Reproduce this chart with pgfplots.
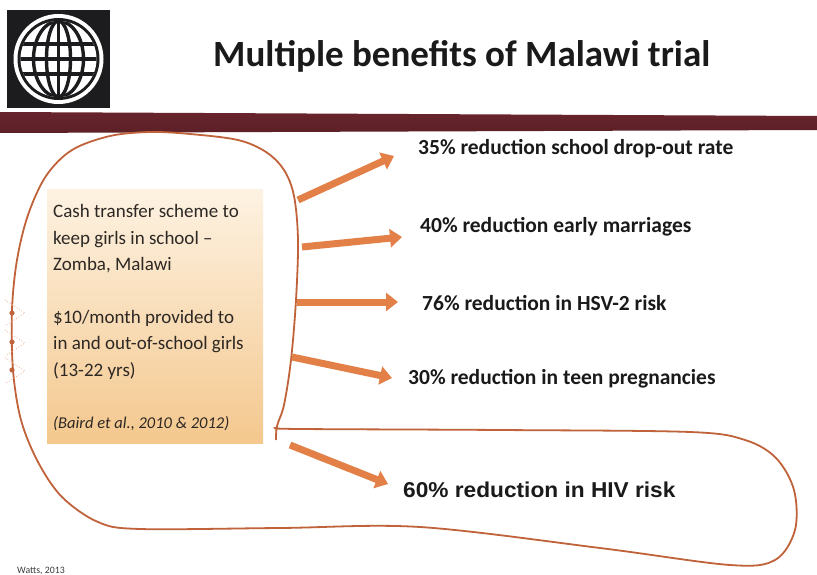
\documentclass[border=0pt]{standalone}
\usepackage{fontspec}
\setmainfont{Carlito}
\newfontfamily\arialf{Liberation Sans}
\usepackage{pgfplots}
\pgfplotsset{compat=1.18}
\usetikzlibrary{arrows.meta}
\definecolor{arrowc}{RGB}{226,128,72}
\definecolor{loopc}{RGB}{192,98,58}
\definecolor{barTop}{RGB}{104,36,44}
\definecolor{barMid}{RGB}{146,58,62}
\definecolor{barBot}{RGB}{92,32,38}
\definecolor{boxTop}{RGB}{253,242,226}
\definecolor{boxBot}{RGB}{244,200,142}
\definecolor{logoblack}{RGB}{28,28,30}
\definecolor{txt}{RGB}{26,26,26}
\definecolor{boxtxt}{RGB}{45,40,36}
\begin{document}
\begin{tikzpicture}
\begin{axis}[scale only axis, width=817pt, height=575pt,
  xmin=0, xmax=817, ymin=0, ymax=575, y dir=reverse,
  hide axis, clip=false]
% background
\fill[white] (0,0) rectangle (817,575);
% logo
\fill[logoblack] (7,10) rectangle (110,108);
\fill[white] (58.5,59) circle[radius=45pt];
\fill[logoblack] (58.5,59) circle[radius=41pt];
\fill[white] (58.5,59) circle[radius=38pt];
\begin{scope}
\clip (58.5,59) circle[radius=38pt];
\draw[logoblack, line width=3.4pt] (58.5,15) -- (58.5,105);
\draw[logoblack, line width=3.4pt] (58.5,59) ellipse[x radius=12pt, y radius=38pt];
\draw[logoblack, line width=3.4pt] (58.5,59) ellipse[x radius=25pt, y radius=38pt];
\draw[logoblack, line width=3.4pt] (10,59) -- (110,59);
\draw[logoblack, line width=3.4pt] (10,44) -- (110,44);
\draw[logoblack, line width=3.4pt] (10,74) -- (110,74);
\end{scope}
% title
\node[anchor=base west, inner sep=0, text=txt, font=\fontsize{37}{44}\selectfont\bfseries] at (213,67) {Multiple benefits of Malawi trial};
% bar
\shade[top color=barTop, middle color=barMid, bottom color=barBot] (0,112) -- (817,116) -- (817,130) -- (0,133) -- cycle;
% box
\shade[top color=boxTop, bottom color=boxBot] (47,190) rectangle (263,443);
% box text
\begin{scope}[every node/.style={anchor=base west, inner sep=0, text=boxtxt, font=\fontsize{19}{23}\selectfont}]
\node at (53,217) {Cash transfer scheme to};
\node at (53,244) {keep girls in school --};
\node at (53,270) {Zomba, Malawi};
\node at (53,323) {\$10/month provided to};
\node at (53,349.5) {in and out-of-school girls};
\node at (53,376) {(13-22 yrs)};
\node[font=\fontsize{16.5}{19}\selectfont\itshape] at (53,428) {(Baird et al., 2010 \& 2012)};
\end{scope}
% loop outline
\addplot[smooth, tension=0.55, color=loopc, line width=1.8pt] coordinates {
 (276,440) (277,426) (284,405) (291,360) (296,300) (298,240) (294,196)
 (284,170) (266,152) (238,140) (190,134) (150,132) (110,136) (72,150)
 (46,176) (28,215) (17,260) (12,310) (13,370) (21,420) (38,462)
 (62,497) (98,522) (140,529) (280,528) (420,527) (600,548) (730,565)
 (775,560) (795,530) (794,490) (776,458) (745,440) (690,432) (500,430)
 (300,429) (276,428)};
% handle dots
\addplot[only marks, mark=*, mark size=2.3pt, color=loopc] coordinates {(12,313) (12,342) (12,370)};
\addplot[dotted, line width=0.8pt, color=arrowc!60] coordinates {(5,300) (25,313) (5,326)};
\addplot[dotted, line width=0.8pt, color=arrowc!60] coordinates {(5,330) (25,343) (5,356)};
\addplot[dotted, line width=0.8pt, color=arrowc!60] coordinates {(5,358) (25,371) (5,384)};
% arrows
\pgfplotsset{arr/.style={color=arrowc, line width=7pt, -{Triangle[length=12pt, width=18pt]}}}
\addplot[arr] coordinates {(298,200) (394,156)};
\addplot[arr] coordinates {(302,247) (402,237)};
\addplot[arr] coordinates {(297,302) (398,302)};
\addplot[arr] coordinates {(292,357) (392,378)};
\addplot[arr] coordinates {(290,445) (388,484)};
% benefit texts
\begin{scope}[every node/.style={anchor=base west, inner sep=0, text=txt, font=\fontsize{21.5}{25}\selectfont\bfseries}]
\node at (418,155) {35\% reduction school drop-out rate};
\node at (420,232) {40\% reduction early marriages};
\node at (422,310) {76\% reduction in HSV-2 risk};
\node at (408,384) {30\% reduction in teen pregnancies};
\node[xscale=1.055, font=\arialf\fontsize{21.5}{25}\selectfont\bfseries] at (403,497) {60\% reduction in HIV risk};
\end{scope}
\node[anchor=base west, inner sep=0, text=txt!85, font=\fontsize{9.8}{12}\selectfont] at (17,573) {Watts, 2013};
\end{axis}
\end{tikzpicture}
\end{document}
